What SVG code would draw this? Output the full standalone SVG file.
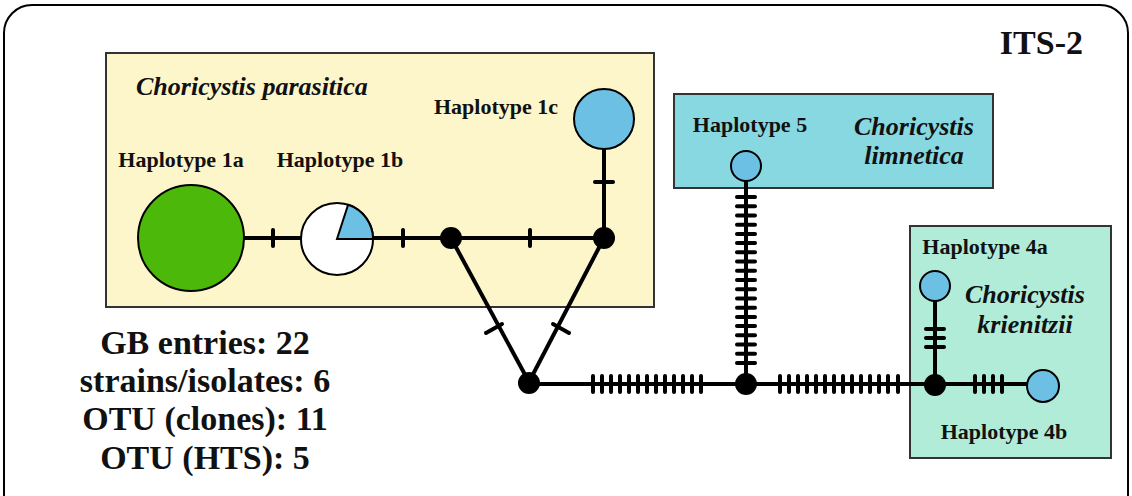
<svg xmlns="http://www.w3.org/2000/svg" width="1132" height="496" viewBox="0 0 1132 496">
<defs>
<style>
.box{stroke:#333;stroke-width:2}
.edge{stroke:#000;stroke-width:4;fill:none}
.tick{stroke:#000;stroke-width:4;stroke-linecap:round}
.node{fill:#000}
.hap{stroke:#000;stroke-width:2}
.lbl{font-family:"Liberation Serif",serif;font-weight:bold;font-size:22px;fill:#111}
.sp{font-family:"Liberation Serif",serif;font-weight:bold;font-style:italic;font-size:26px;fill:#111}
.stat{font-family:"Liberation Serif",serif;font-weight:bold;font-size:34px;fill:#111;text-anchor:middle}
</style>
</defs>
<rect x="4" y="5" width="1124" height="520" rx="28" ry="28" fill="#fff" stroke="#000" stroke-width="2"/>
<text x="1083" y="54" text-anchor="end" style="font-family:'Liberation Serif',serif;font-weight:bold;font-size:34px;fill:#111">ITS-2</text>

<g id="box-parasitica">
<rect class="box" x="106" y="53" width="548" height="254" fill="#fdf6cb"/>
<text class="sp" x="136" y="95">Choricystis parasitica</text>
</g>
<g id="box-limnetica">
<rect class="box" x="674" y="94" width="319" height="94" fill="#88d8e2"/>
<text class="sp" x="914" y="135" text-anchor="middle">Choricystis</text>
<text class="sp" x="914" y="164" text-anchor="middle">limnetica</text>
</g>
<g id="box-krienitzii">
<rect class="box" x="910" y="226" width="201" height="232" fill="#b0ecd8"/>
<text class="sp" x="1025" y="303" text-anchor="middle">Choricystis</text>
<text class="sp" x="1025" y="333" text-anchor="middle">krienitzii</text>
</g>

<g id="connectors">
<line class="edge" x1="244" y1="238" x2="604" y2="238"/>
<line class="edge" x1="604" y1="238" x2="604" y2="149"/>
<line class="edge" x1="451" y1="238" x2="529" y2="382"/>
<line class="edge" x1="604" y1="238" x2="529" y2="382"/>
<line class="edge" x1="529" y1="384" x2="1027" y2="384"/>
<line class="edge" x1="746" y1="384" x2="746" y2="181"/>
<line class="edge" x1="935" y1="384" x2="935" y2="301"/>
<g class="tick">
<line x1="273" y1="230" x2="273" y2="246"/>
<line x1="403" y1="230" x2="403" y2="246"/>
<line x1="530" y1="230" x2="530" y2="246"/>
<line x1="595" y1="182" x2="613" y2="182"/>
<line x1="486" y1="333" x2="502" y2="324"/>
<line x1="553" y1="324" x2="569" y2="333"/>
</g>
<g class="tick" stroke-width="3.5">
<line x1="593" y1="376" x2="593" y2="392"/><line x1="602" y1="376" x2="602" y2="392"/><line x1="611" y1="376" x2="611" y2="392"/><line x1="620" y1="376" x2="620" y2="392"/><line x1="629" y1="376" x2="629" y2="392"/><line x1="638" y1="376" x2="638" y2="392"/><line x1="647" y1="376" x2="647" y2="392"/><line x1="656" y1="376" x2="656" y2="392"/><line x1="665" y1="376" x2="665" y2="392"/><line x1="674" y1="376" x2="674" y2="392"/><line x1="683" y1="376" x2="683" y2="392"/><line x1="692" y1="376" x2="692" y2="392"/><line x1="701" y1="376" x2="701" y2="392"/>
<line x1="780" y1="376" x2="780" y2="392"/><line x1="789" y1="376" x2="789" y2="392"/><line x1="798" y1="376" x2="798" y2="392"/><line x1="807" y1="376" x2="807" y2="392"/><line x1="816" y1="376" x2="816" y2="392"/><line x1="825" y1="376" x2="825" y2="392"/><line x1="834" y1="376" x2="834" y2="392"/><line x1="843" y1="376" x2="843" y2="392"/><line x1="852" y1="376" x2="852" y2="392"/><line x1="861" y1="376" x2="861" y2="392"/><line x1="870" y1="376" x2="870" y2="392"/><line x1="879" y1="376" x2="879" y2="392"/><line x1="888" y1="376" x2="888" y2="392"/><line x1="898" y1="376" x2="898" y2="392"/>
<line x1="975" y1="376" x2="975" y2="392"/><line x1="984" y1="376" x2="984" y2="392"/><line x1="993" y1="376" x2="993" y2="392"/><line x1="1002" y1="376" x2="1002" y2="392"/>
<line x1="737" y1="197" x2="755" y2="197"/><line x1="737" y1="206.2" x2="755" y2="206.2"/><line x1="737" y1="215.4" x2="755" y2="215.4"/><line x1="737" y1="224.7" x2="755" y2="224.7"/><line x1="737" y1="233.9" x2="755" y2="233.9"/><line x1="737" y1="243.1" x2="755" y2="243.1"/><line x1="737" y1="252.3" x2="755" y2="252.3"/><line x1="737" y1="261.6" x2="755" y2="261.6"/><line x1="737" y1="270.8" x2="755" y2="270.8"/><line x1="737" y1="280" x2="755" y2="280"/><line x1="737" y1="289.2" x2="755" y2="289.2"/><line x1="737" y1="298.4" x2="755" y2="298.4"/><line x1="737" y1="307.7" x2="755" y2="307.7"/><line x1="737" y1="316.9" x2="755" y2="316.9"/><line x1="737" y1="326.1" x2="755" y2="326.1"/><line x1="737" y1="335.3" x2="755" y2="335.3"/><line x1="737" y1="344.6" x2="755" y2="344.6"/><line x1="737" y1="353.8" x2="755" y2="353.8"/><line x1="737" y1="363" x2="755" y2="363"/>
<line x1="926" y1="329" x2="944" y2="329"/><line x1="926" y1="338" x2="944" y2="338"/><line x1="926" y1="347" x2="944" y2="347"/>
</g>
</g>

<g id="n-mid1"><circle class="node" cx="451" cy="238" r="11"/></g>
<g id="n-mid2"><circle class="node" cx="604" cy="238" r="11"/></g>
<g id="n-mid3"><circle class="node" cx="529" cy="383" r="11"/></g>
<g id="n-mid4"><circle class="node" cx="746" cy="384" r="11"/></g>
<g id="n-mid5"><circle class="node" cx="935" cy="385" r="11"/></g>

<g id="hap-1a">
<circle class="hap" cx="191" cy="238" r="53" fill="#4cb80a"/>
<text class="lbl" x="181" y="167" text-anchor="middle">Haplotype 1a</text>
</g>
<g id="hap-1b">
<circle class="hap" cx="337" cy="239" r="36" fill="#fff"/>
<path class="hap" d="M337,239 L373,239 A36,36 0 0,0 348.1,204.8 Z" fill="#6bc0e4"/>
<text class="lbl" x="340" y="167" text-anchor="middle">Haplotype 1b</text>
</g>
<g id="hap-1c">
<circle class="hap" cx="604" cy="119" r="30" fill="#6bc0e4"/>
<text class="lbl" x="496" y="114" text-anchor="middle">Haplotype 1c</text>
</g>
<g id="hap-5">
<circle class="hap" cx="746" cy="166" r="15" fill="#6bc0e4"/>
<text class="lbl" x="750" y="132" text-anchor="middle">Haplotype 5</text>
</g>
<g id="hap-4a">
<circle class="hap" cx="935" cy="286" r="15" fill="#6bc0e4"/>
<text class="lbl" x="985" y="254" text-anchor="middle">Haplotype 4a</text>
</g>
<g id="hap-4b">
<circle class="hap" cx="1043" cy="386" r="16" fill="#6bc0e4"/>
<text class="lbl" x="1004" y="439" text-anchor="middle">Haplotype 4b</text>
</g>

<g id="stats">
<text class="stat" x="205" y="354">GB entries: 22</text>
<text class="stat" x="205" y="392">strains/isolates: 6</text>
<text class="stat" x="205" y="430">OTU (clones): 11</text>
<text class="stat" x="205" y="469">OTU (HTS): 5</text>
</g>
</svg>
